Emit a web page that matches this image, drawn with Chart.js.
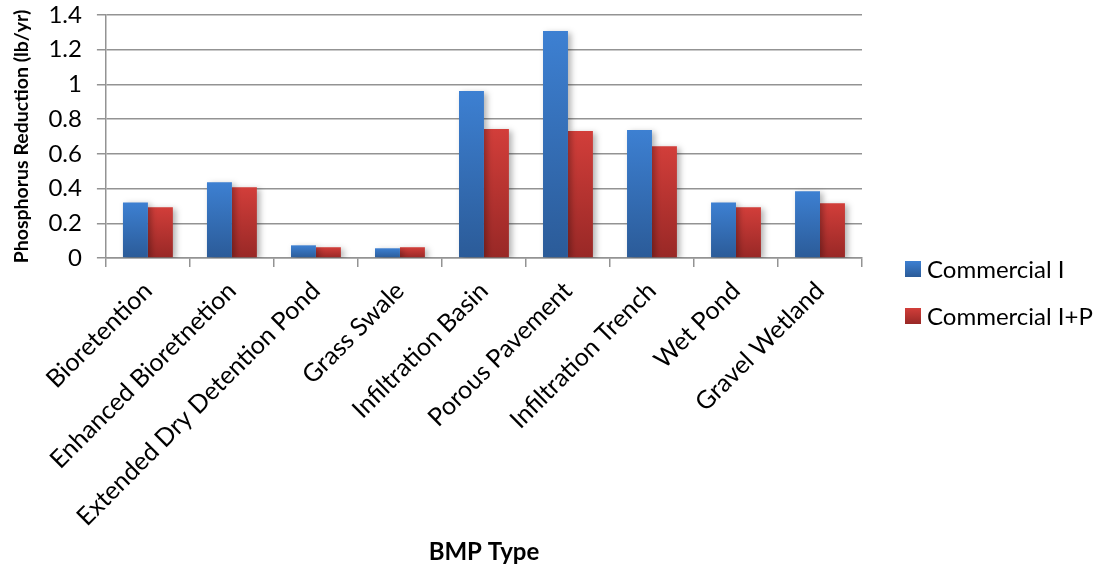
<!DOCTYPE html>
<html>
<head>
<meta charset="utf-8">
<script src="https://cdn.jsdelivr.net/npm/chart.js@4.4.1/dist/chart.umd.min.js"></script>
<style>
  html, body { margin: 0; padding: 0; background: #ffffff; }
  #wrap { width: 1101px; height: 571px; }
</style>
</head>
<body>
<div id="wrap"><canvas id="chart" width="1101" height="571"></canvas></div>
<script>
// BMP categories and annual phosphorus reduction (lb/yr) per land-use scenario
const categories = [
  'Bioretention',
  'Enhanced Bioretnetion',
  'Extended Dry Detention Pond',
  'Grass Swale',
  'Infiltration Basin',
  'Porous Pavement',
  'Infiltration Trench',
  'Wet Pond',
  'Gravel Wetland'
];
const commercialI  = [0.32, 0.437, 0.073, 0.056, 0.962, 1.308, 0.737, 0.32, 0.385];
const commercialIP = [0.293, 0.408, 0.062, 0.062, 0.743, 0.731, 0.644, 0.293, 0.316];
const seriesNames = ['Commercial I', 'Commercial I+P'];
const yTicks = [0, 0.2, 0.4, 0.6, 0.8, 1, 1.2, 1.4];

const FONT = 'Lato, "Open Sans", "DejaVu Sans", sans-serif';
const GRID = '#939393';

// Vertical gradient per bar: lighter at the top, darker at the base
function barGradient(topColor, bottomColor) {
  return (ctx) => {
    const chart = ctx.chart;
    const yScale = chart.scales && chart.scales.y;
    if (!chart.chartArea || !yScale || ctx.type !== 'data') return topColor;
    const yTop = yScale.getPixelForValue(ctx.raw);
    const yBase = yScale.getPixelForValue(0);
    if (!isFinite(yTop) || !isFinite(yBase) || yTop === yBase) return topColor;
    const g = chart.ctx.createLinearGradient(0, yTop, 0, yBase);
    g.addColorStop(0, topColor);
    g.addColorStop(1, bottomColor);
    return g;
  };
}

const palette = [
  { top: '#3d80d2', bottom: '#2b5b98' },
  { top: '#d23e3a', bottom: '#982826' }
];

// Soft drop shadow behind the bars
const barShadow = {
  id: 'barShadow',
  beforeDatasetsDraw(chart) {
    const c = chart.ctx;
    c.save();
    c.shadowColor = 'rgba(0,0,0,0.30)';
    c.shadowBlur = 6;
    c.shadowOffsetX = 3;
    c.shadowOffsetY = 2;
  },
  afterDatasetsDraw(chart) {
    chart.ctx.restore();
  }
};

// Legend drawn to the right of the plot area, stacked vertically
const sideLegend = {
  id: 'sideLegend',
  afterDraw(chart) {
    const c = chart.ctx;
    const x = chart.chartArea.right + 43;
    const rowGap = 47;
    const firstRow = 269;
    c.save();
    c.font = '24px ' + FONT;
    c.textBaseline = 'middle';
    c.textAlign = 'left';
    chart.data.datasets.forEach((ds, i) => {
      const cy = firstRow + i * rowGap;
      const g = c.createLinearGradient(0, cy - 8, 0, cy + 8);
      g.addColorStop(0, palette[i].top);
      g.addColorStop(1, palette[i].bottom);
      c.fillStyle = g;
      c.fillRect(x, cy - 8, 16, 16);
      c.fillStyle = '#000';
      c.fillText(ds.label, x + 22, cy + 1);
    });
    c.restore();
  }
};

new Chart(document.getElementById('chart'), {
  type: 'bar',
  data: {
    labels: categories,
    datasets: [
      {
        label: seriesNames[0],
        data: commercialI,
        backgroundColor: barGradient(palette[0].top, palette[0].bottom),
        borderWidth: 0,
        categoryPercentage: 0.594,
        barPercentage: 1.0
      },
      {
        label: seriesNames[1],
        data: commercialIP,
        backgroundColor: barGradient(palette[1].top, palette[1].bottom),
        borderWidth: 0,
        categoryPercentage: 0.594,
        barPercentage: 1.0
      }
    ]
  },
  options: {
    responsive: false,
    devicePixelRatio: 1,
    animation: false,
    layout: { padding: { left: 9, right: 239, top: 0, bottom: 4 } },
    plugins: {
      legend: { display: false },
      tooltip: { enabled: false }
    },
    scales: {
      x: {
        offset: true,
        afterFit(scale) {
          // room for the long slanted category names plus the axis title
          scale.height = 309;
        },
        grid: {
          display: true,
          offset: true,
          drawOnChartArea: false,
          drawTicks: true,
          tickLength: 9,
          color: GRID,
          lineWidth: 1.5
        },
        border: { display: true, color: GRID, width: 1.5 },
        ticks: {
          color: '#000',
          font: { family: FONT, size: 25 },
          minRotation: 45,
          maxRotation: 45,
          autoSkip: false,
          padding: 9
        },
        title: {
          display: true,
          text: 'BMP Type',
          color: '#000',
          font: { family: FONT, size: 24, weight: 'bold' },
          padding: { top: 4, bottom: 0 }
        }
      },
      y: {
        min: 0,
        max: 1.4,
        afterBuildTicks(scale) {
          scale.ticks = yTicks.map(v => ({ value: v }));
        },
        afterFit(scale) {
          // keep the top gridline close to the canvas edge
          scale.paddingTop = 15;
        },
        grid: {
          color: GRID,
          lineWidth: 1.5,
          drawTicks: true,
          tickLength: 9
        },
        border: { display: true, color: GRID, width: 1.5 },
        ticks: {
          color: '#000',
          font: { family: FONT, size: 24 },
          padding: 15,
          callback: (v) => String(v)
        },
        title: {
          display: true,
          text: 'Phosphorus Reduction (lb/yr)',
          color: '#000',
          font: { family: FONT, size: 19.5, weight: 'bold' },
          padding: { top: 1, bottom: 0 }
        }
      }
    }
  },
  plugins: [barShadow, sideLegend]
});
</script>
</body>
</html>
